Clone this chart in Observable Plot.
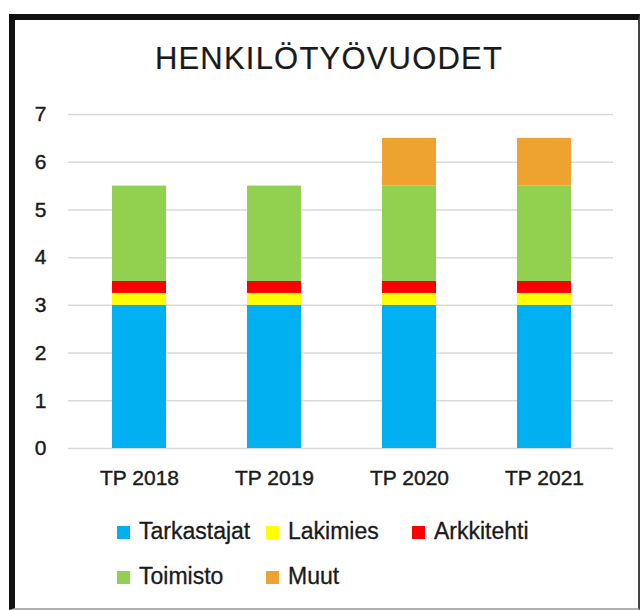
<!DOCTYPE html>
<html>
<head>
<meta charset="utf-8">
<script src="https://cdn.jsdelivr.net/npm/d3@7"></script>
<script src="https://cdn.jsdelivr.net/npm/@observablehq/plot@0.6"></script>
<style>
  html, body { margin: 0; padding: 0; background: #fff; }
  body { width: 641px; height: 610px; position: relative; overflow: hidden; font-family: "Liberation Sans", Arial, sans-serif; }
  #frame { position: absolute; left: 9px; top: 14px; width: 631px; height: 596px; box-sizing: border-box;
           border-left: 6px solid #111; border-top: 6px solid #111; border-right: 2px solid #444; border-bottom: 2px solid #b0b0b0; }
  #title { position: absolute; left: 9px; width: 640px; top: 43px; text-align: center; font-size: 31px; line-height: 31px;
           letter-spacing: 1.2px; color: #1a1a1a; -webkit-text-stroke: 0.2px #1a1a1a; }
  #chart { position: absolute; left: 0; top: 0; }
  #chart text { stroke: #1a1a1a; stroke-width: 0.4px; }
  #legend { position: absolute; left: 117px; top: 520px; display: grid; grid-template-columns: 149px 146px 146px; row-gap: 22px; }
  .item { display: flex; align-items: center; font-size: 23px; line-height: 23px; color: #1a1a1a; white-space: nowrap; -webkit-text-stroke: 0.3px #1a1a1a; }
  .sw { width: 13px; height: 13px; margin-right: 9px; margin-top: 2px; flex: none; }
</style>
</head>
<body>
<div id="frame"></div>
<div id="title">HENKILÖTYÖVUODET</div>
<div id="chart"></div>
<div id="legend"></div>
<script>
const categories = ["TP 2018", "TP 2019", "TP 2020", "TP 2021"];
const seriesNames = ["Tarkastajat", "Lakimies", "Arkkitehti", "Toimisto", "Muut"];
const seriesColors = ["#00B0F0", "#FFFF00", "#FF0000", "#92D050", "#EEA22F"];
const tarkastajat = [3, 3, 3, 3];
const lakimies = [0.25, 0.25, 0.25, 0.25];
const arkkitehti = [0.25, 0.25, 0.25, 0.25];
const toimisto = [2, 2, 2, 2];
const muut = [0, 0, 1, 1];
const yTicks = [0, 1, 2, 3, 4, 5, 6, 7];

const seriesValues = [tarkastajat, lakimies, arkkitehti, toimisto, muut];
const data = [];
seriesNames.forEach((s, i) => {
  categories.forEach((c, j) => {
    data.push({category: c, series: s, value: seriesValues[i][j]});
  });
});

const chart = Plot.plot({
  width: 641,
  height: 500,
  marginTop: 114,
  marginBottom: 52,
  marginLeft: 68,
  marginRight: 28,
  style: {fontFamily: "Liberation Sans, Arial, sans-serif", fontSize: "21px", color: "#1a1a1a", background: "transparent"},
  x: {domain: categories, range: [70.7, 612.6], paddingInner: 0.6, paddingOuter: 0.3, tickSize: 0, tickPadding: 22, label: null},
  y: {domain: [0, 7], ticks: yTicks, tickSize: 0, tickPadding: 22, label: null, tickFormat: d => String(d)},
  color: {domain: seriesNames, range: seriesColors},
  marks: [
    Plot.ruleY(yTicks, {stroke: "#d9d9d9", strokeWidth: 1.5}),
    Plot.barY(data, Plot.stackY({x: "category", y: "value", fill: "series", order: seriesNames}))
  ]
});
document.getElementById("chart").appendChild(chart);

const legend = document.getElementById("legend");
seriesNames.forEach((s, i) => {
  const item = document.createElement("div");
  item.className = "item";
  const sw = document.createElement("span");
  sw.className = "sw";
  sw.style.background = seriesColors[i];
  const label = document.createElement("span");
  label.textContent = s;
  item.appendChild(sw);
  item.appendChild(label);
  legend.appendChild(item);
});
</script>
</body>
</html>
